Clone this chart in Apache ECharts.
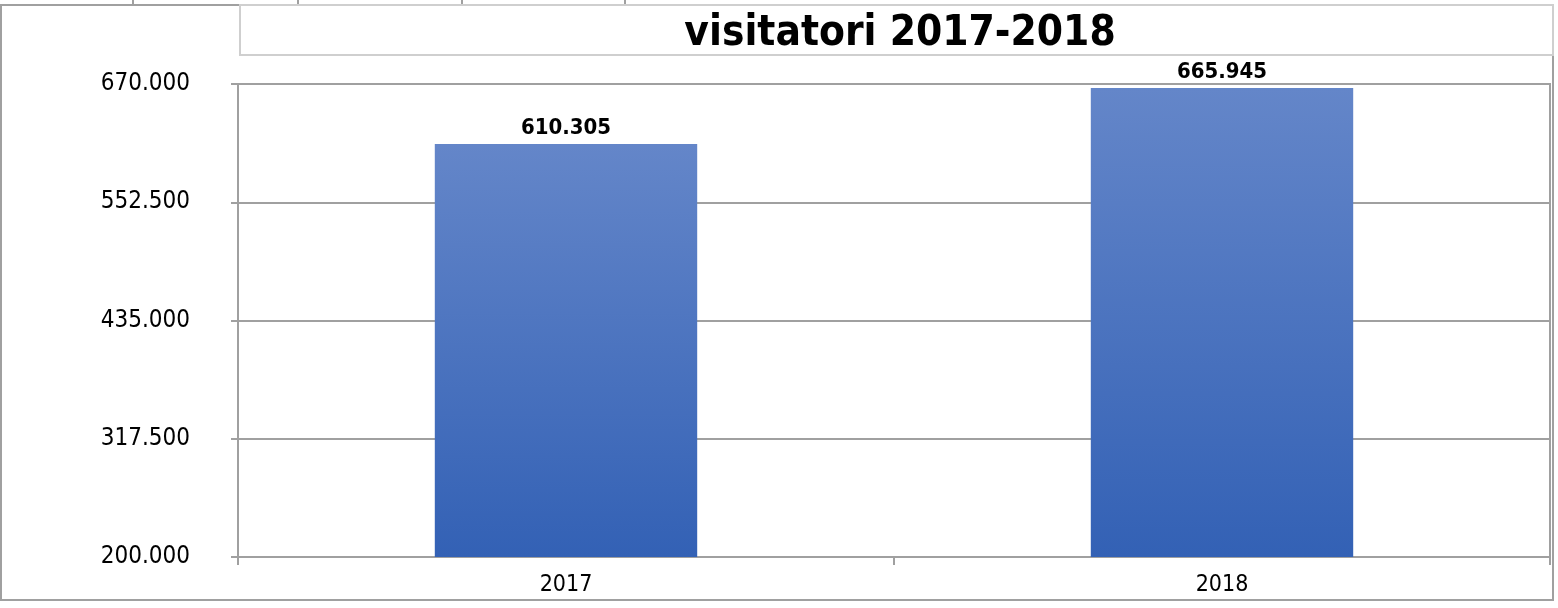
<!DOCTYPE html>
<html><head><meta charset="utf-8">
<script src="https://cdn.jsdelivr.net/npm/echarts@6/dist/echarts.min.js"></script>
<style>html,body{margin:0;padding:0;background:#fff}#c{width:1558px;height:608px}</style>
</head><body><div id="c"></div>
<script>
const titleText = 'visitatori 2017-2018';
const categories = ['2017', '2018'];
const visitors = [610305, 665945];
const yMin = 200000, yMax = 670000, yStep = 117500;

function itFmt(v){ return Math.round(v).toString().replace(/\B(?=(\d{3})+(?!\d))/g, '.'); }

const FONT = '"DejaVu Sans Condensed", "DejaVu Sans", sans-serif';
const chart = echarts.init(document.getElementById('c'), null, {renderer:'canvas'});
const gray = '#a0a0a0';
const topLines = [133, 298, 462, 625].map(x => ({type:'line', shape:{x1:x,y1:0,x2:x,y2:5}, style:{stroke:gray, lineWidth:2}}));
chart.setOption({
  animation:false,
  backgroundColor:'#fff',
  graphic:[
    {type:'rect', shape:{x:1,y:5,width:1552,height:595}, style:{fill:null, stroke:gray, lineWidth:2}, z:0},
    {type:'rect', shape:{x:240,y:5,width:1313,height:50}, style:{fill:null, stroke:'#cfcfcf', lineWidth:2}, z:1},
    ...topLines
  ],
  title:{text:titleText, left:895, top:8, textAlign:'center',
    textStyle:{fontFamily:FONT, fontWeight:'bold', fontSize:42, color:'#000'}},
  grid:{left:238, right:8, top:84, bottom:51, containLabel:false, show:true, borderColor:gray, borderWidth:2, backgroundColor:'transparent'},
  xAxis:{type:'category', data:categories, boundaryGap:true,
    axisLine:{lineStyle:{color:gray, width:2}},
    axisTick:{show:true, length:8, lineStyle:{color:gray, width:2}},
    axisLabel:{fontFamily:FONT, fontSize:23, color:'#000', margin:17}},
  yAxis:{type:'value', min:yMin, max:yMax, interval:yStep,
    axisLine:{show:true, lineStyle:{color:gray, width:2}},
    axisTick:{show:true, length:7, lineStyle:{color:gray, width:2}},
    splitLine:{lineStyle:{color:gray, width:2}},
    axisLabel:{fontFamily:FONT, fontSize:24, color:'#000', margin:48, formatter:itFmt}},
  series:[{type:'bar', data:visitors, barWidth:'40%',
    itemStyle:{color:new echarts.graphic.LinearGradient(0,0,0,1,[{offset:0,color:'#6486c9'},{offset:1,color:'#3361b5'}])},
    label:{show:true, position:'top', distance:5, fontFamily:FONT, fontWeight:'bold', fontSize:22, color:'#000', formatter:p=>itFmt(p.value)}}]
});
</script></body></html>
